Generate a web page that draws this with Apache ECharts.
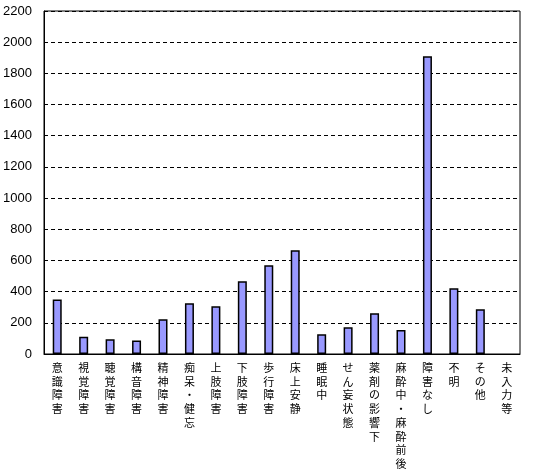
<!DOCTYPE html>
<html><head><meta charset="utf-8">
<script src="https://cdn.jsdelivr.net/npm/echarts@6/dist/echarts.min.js"></script>
<style>html,body{margin:0;padding:0;background:#fff}#c{width:539px;height:476px}</style>
</head><body><div id="c"></div>
<script>
const categories = ["意識障害","視覚障害","聴覚障害","構音障害","精神障害","痴呆・健忘","上肢障害","下肢障害","歩行障害","床上安静","睡眠中","せん妄状態","薬剤の影響下","麻酔中・麻酔前後","障害なし","不明","その他","未入力等"];
const values = [350, 110, 94, 86, 223, 325, 306, 466, 569, 665, 126, 171, 261, 154, 1910, 421, 287, null];
const yMin = 0, yMax = 2200, yStep = 200;

const chart = echarts.init(document.getElementById('c'), null, {renderer:'canvas'});
chart.setOption({
  animation:false,
  backgroundColor:'#fff',
  grid:{left:44, right:19, top:11, bottom:122, show:true, borderColor:'#000', borderWidth:1, backgroundColor:'transparent'},
  xAxis:{type:'category', data:categories,
    axisLine:{lineStyle:{color:'#000', width:1}}, axisTick:{show:false},
    axisLabel:{interval:0, color:'#000', fontSize:11, fontFamily:'Noto Sans CJK JP', lineHeight:13.7, margin:7, verticalAlign:'top',
      formatter:v=>v.split('').join('\n')}},
  yAxis:{type:'value', min:yMin, max:yMax, interval:yStep,
    axisLine:{show:true, lineStyle:{color:'#000', width:1}}, axisTick:{show:false},
    axisLabel:{color:'#000', fontSize:13, fontFamily:'Liberation Sans Narrow, Liberation Sans', margin:12, formatter:v=>String(v)},
    splitLine:{show:true, lineStyle:{color:'#000', type:[4,3], width:1}}},
  series:[{type:'bar', data:values, barWidth:9,
    itemStyle:{color:'#9999FF', borderColor:'#000', borderWidth:1.5}}]
});
</script></body></html>
